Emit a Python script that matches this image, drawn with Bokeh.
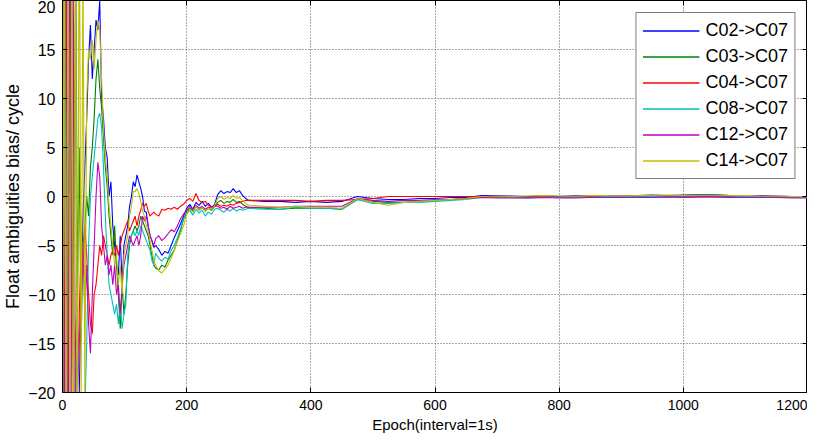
from bokeh.plotting import figure
from bokeh.models import Range1d, LinearAxis, FixedTicker, Legend, LegendItem
from bokeh.embed import file_html
from bokeh.resources import INLINE

# epoch index (x values)
epochs = list(range(0, 150, 3)) + list(range(150, 300, 5)) + list(range(300, 1201, 25))

c02 = [30, -40, 35, -30, 25, -10, -7, -25, -35, -20, -10, -2, 3, 8, 14, 17.5, 12, 15, 18, 17,
       20, 10, 8, 5, 4, 0, 1.5, -3, -5, -7, -8, -4, -9, -5, -4, -3, -1, 0, 1.5, 1,
       2.2, 1.5, 0.8, 0, -1.5, -1.6, -3, -4, -4.5, -5.2,
       -5.0, -5.4, -6.0, -5.6, -5.8, -5.0, -4.2, -3.5, -2.8, -2.0, -1.2, -0.8, -1.3, -0.6, -0.9,
       -0.5, -1.0, -0.7, -1.1, -0.8, 0.2, 0.6, 0.3, 0.5, 0.4, 0.8, 0.4, 0.6, 0.1, -0.2,
       -0.4, -0.5, -0.5, -0.6, -0.5, -0.6, -0.5, 0.0, -0.2, -0.3, -0.3, -0.2, -0.2, -0.1, -0.1,
       0.1, 0.1, 0.05, 0.0, 0.1, 0.0, 0.1, 0.1, 0.1, 0.05, 0.1, 0.15, 0.1, 0.15, 0.2, 0.2,
       0.1, 0.05, 0.1, 0.05, 0.0, 0.0]
c03 = [-35, 40, -30, 30, -25, 35, 25, 30, -10, 5, -15, -5, -3, 0, -2, 3, 5, 8, 12, 14,
       11, 9, 6, 3, 1, -2, -4, -6, -3, -7, -10, -13.5, -9, -12, -10, -7, -5, -4, -3.5, -3,
       -3.5, -3, -2, -2.5, -3, -3.5, -4, -5, -6, -7,
       -7.3, -7.5, -7.0, -7.2, -6.5, -6.0, -5.5, -4.5, -3.5, -2.3, -1.6, -1.2, -1.5, -1.0, -1.4,
       -1.1, -1.5, -1.2, -1.4, -1.0, -0.6, -0.4, -0.7, -0.5, -0.6, -0.3, -0.6, -0.5, -0.8, -1.0,
       -1.1, -1.2, -1.3, -1.2, -1.2, -1.2, -1.3, -0.3, -0.5, -0.6, -0.6, -0.5, -0.4, -0.3, -0.2,
       0.0, -0.1, -0.1, -0.1, -0.05, -0.1, -0.1, -0.05, 0.0, -0.05, 0.0, 0.0, 0.05, 0.0, 0.05, 0.05,
       0.0, -0.05, 0.0, -0.05, -0.1, -0.1]
c04 = [20, -30, 30, 8.3, -25, 30, -10, -15, -20, -12, -5, -8, -3, -6, -10, -13, -14, -10, -9, -7,
       -5, -6, -4, -5, -6, -7, -6, -5.5, -6, -5, -6, -5, -4, -3.5, -3, -2.5, -3.5, -3, -2.5, -2,
       -3, -2, -1.4, -0.7, -1.0, -0.7, -1.5, -2, -1.8, -1.6,
       -1.8, -2.0, -1.3, -1.4, -1.2, -1.3, -1.1, -1.3, -1.0, -0.8, -0.4, -0.2, -0.5, 0.3, -0.4,
       -0.6, -0.5, -0.9, -1.1, -1.0, -0.8, -1.0, -0.9, -1.0, -0.8, -0.9, -0.7, -0.6, -0.5, -0.4,
       -0.4, -0.4, -0.4, -0.4, -0.5, -0.4, -0.4, -0.3, -0.2, 0.0, 0.0, 0.0, 0.0, 0.0, 0.0,
       0.0, 0.0, -0.05, -0.05, -0.05, -0.05, -0.05, -0.05, -0.05, -0.05, -0.05, -0.05, -0.05, -0.05, -0.05, -0.05,
       -0.05, -0.05, -0.05, -0.05, -0.05, -0.05]
c08 = [-40, 30, -30, 25, -20, 30, -25, 20, -30, -20, -25, -20, -22, -15, -5, 0, 2, 4, 6, 8,
       8.5, 7, 3, -2, -6, -9, -10, -11, -12, -11, -13, -11, -13.5, -12, -11, -6, -4.5, -4, -3.5, -4,
       -3.5, -4, -3, -3.5, -4, -4.5, -5, -5.5, -6.5, -7,
       -5.8, -6.3, -6.6, -6.2, -6.4, -5.5, -5.0, -4.2, -3.3, -2.3, -1.8, -1.4, -1.9, -1.3, -1.7,
       -1.4, -2.0, -1.6, -1.8, -1.3, -1.2, -1.4, -1.6, -1.3, -1.5, -1.2, -1.5, -1.3, -1.4, -1.3,
       -1.2, -1.3, -1.3, -1.1, -1.2, -1.2, -1.3, -0.3, -0.7, -0.7, -0.6, -0.6, -0.5, -0.4, -0.3,
       -0.1, -0.1, -0.1, -0.15, -0.1, -0.1, -0.05, -0.1, 0.0, -0.05, 0.05, 0.0, 0.05, 0.05, 0.1, 0.1,
       0.05, 0.0, 0.0, -0.05, -0.1, -0.1]
c12 = [35, -35, 30, -30, 25, -20, 20, -25, -20, -15, -10, -5, -12, -7, -13, -16, -10, -5, 0, 3.5,
       2, -3, -5, -7, -6, -8, -7, -9, -7, -10, -9, -12, -9, -7, -6, -5, -4, -4.5, -5, -4.5,
       -4, -5, -4, -2, -2.5, -2, -3, -4, -4.5, -5,
       -4.3, -4.0, -4.5, -4.2, -3.8, -3.4, -3.6, -3.0, -2.3, -1.8, -1.4, -1.0, -1.3, -0.9, -1.2,
       -1.0, -1.3, -1.1, -1.2, -1.0, -1.0, -1.2, -1.1, -1.3, -1.0, -1.2, -1.1, -1.0, -1.2, -1.1,
       -1.1, -1.1, -1.1, -1.0, -1.0, -1.0, -1.0, -0.2, -0.4, -0.5, -0.4, -0.4, -0.3, -0.3, -0.2,
       -0.1, -0.15, -0.15, -0.15, -0.1, -0.15, -0.15, -0.1, -0.1, -0.1, -0.1, -0.1, -0.05, -0.1, -0.05, -0.05,
       -0.1, -0.1, -0.1, -0.1, -0.15, -0.15]
c14 = [-30, 40, -40, 35, -30, 30, -35, 30, -30, 35, -20, 25, -20, 10, 15, 14, 16, 13, 16, 18,
       17, 12, 7, 4, 2, -1, -3, -5, -7, -6, -9, -7, -10, -6, -5, -4, -2, -1, 0.5, 0.5,
       0.8, 0.3, -0.5, -1.5, -2, -3, -3.5, -4.5, -5.5, -6.5,
       -7.0, -7.6, -7.8, -7.4, -7.0, -6.3, -5.5, -4.6, -3.8, -3.0, -1.8, -1.3, -1.6, -1.0, -1.4,
       -1.1, -1.5, -1.2, -1.3, -0.9, -0.2, 0.0, -0.3, -0.1, -0.2, 0.1, -0.2, -0.1, -0.4, -0.7,
       -0.9, -1.0, -1.1, -1.0, -1.1, -1.1, -1.2, -0.2, -0.6, -0.9, -0.6, -0.5, -0.4, -0.3, -0.2,
       0.0, 0.05, 0.0, 0.05, 0.1, 0.05, 0.05, 0.1, 0.1, 0.05, 0.1, 0.1, 0.15, 0.1, 0.15, 0.15,
       0.1, 0.1, 0.05, 0.05, 0.0, 0.0]

series_names = ["C02->C07", "C03->C07", "C04->C07", "C08->C07", "C12->C07", "C14->C07"]
series_values = [c02, c03, c04, c08, c12, c14]
colors = ["#0000FF", "#008000", "#FF0000", "#00BFBF", "#BF00BF", "#BFBF00"]

x_ticks = [0, 200, 400, 600, 800, 1000, 1200]
y_ticks = [-20, -15, -10, -5, 0, 5, 10, 15, 20]

FONT = "Liberation Sans"

p = figure(width=807, height=435, output_backend="svg", toolbar_location=None,
           x_range=Range1d(0, 1200), y_range=Range1d(-20, 20),
           min_border_left=10, min_border_right=0, min_border_top=0, min_border_bottom=10,
           background_fill_color="white", border_fill_color="white")
p.outline_line_color = "black"
p.outline_line_width = 1

items = []
for name, vals, col in zip(series_names, series_values, colors):
    p.line(epochs, vals, line_color=col, line_width=1.1)
    # single-point renderer used only as the legend key (draws nothing in the plot)
    key = p.line(epochs[:1], vals[:1], line_color=col, line_width=1.6)
    items.append(LegendItem(label=name, renderers=[key]))

# main axes
p.xaxis.ticker = FixedTicker(ticks=x_ticks)
p.yaxis.ticker = FixedTicker(ticks=y_ticks)
for ax in (p.xaxis[0], p.yaxis[0]):
    ax.major_tick_in = 5
    ax.major_tick_out = 0
    ax.minor_tick_line_color = None
    ax.axis_line_color = "black"
    ax.major_label_text_color = "black"
    ax.axis_label_text_font_style = "normal"
    ax.axis_label_text_color = "black"
p.xaxis.axis_label = "Epoch(interval=1s)"
p.xaxis.major_label_text_font = FONT
p.xaxis.major_label_text_font_size = "14px"
p.xaxis.axis_label_text_font = FONT
p.xaxis.axis_label_text_font_size = "15px"
p.xaxis.major_label_standoff = 7
p.xaxis.axis_label_standoff = 3
p.yaxis.axis_label = "Float ambiguities bias/ cycle"
p.yaxis.major_label_text_font = FONT
p.yaxis.major_label_text_font_size = "16px"
p.yaxis.axis_label_text_font = FONT
p.yaxis.axis_label_text_font_size = "18px"
p.yaxis.major_label_standoff = 7
p.yaxis.axis_label_standoff = 2

# box ticks on top and right
top = LinearAxis(ticker=FixedTicker(ticks=x_ticks), major_label_text_font_size="1px",
                 major_label_text_color=None,
                 major_tick_in=5, major_tick_out=0, minor_tick_line_color=None,
                 major_label_standoff=0, axis_line_color="black")
right = LinearAxis(ticker=FixedTicker(ticks=y_ticks), major_label_text_font_size="1px",
                   major_label_text_color=None,
                   major_tick_in=5, major_tick_out=0, minor_tick_line_color=None,
                   major_label_standoff=0, axis_line_color="black")
p.add_layout(top, "above")
p.add_layout(right, "right")

p.xgrid.ticker = FixedTicker(ticks=x_ticks)
p.ygrid.ticker = FixedTicker(ticks=y_ticks)
for g in (p.xgrid[0], p.ygrid[0]):
    g.grid_line_color = "#555555"
    g.grid_line_dash = "1 2"
    g.grid_line_width = 1

legend = Legend(items=items, location="top_right")
legend.label_text_font = FONT
legend.label_text_font_size = "18px"
legend.label_text_color = "black"
legend.border_line_color = "black"
legend.border_line_width = 1
legend.background_fill_color = "white"
legend.background_fill_alpha = 1
legend.glyph_width = 57
legend.glyph_height = 23
legend.label_height = 23
legend.spacing = 3
legend.padding = 6
legend.margin = 12
legend.label_standoff = 6
p.add_layout(legend)

open("out.html", "w").write(file_html(p, INLINE))
